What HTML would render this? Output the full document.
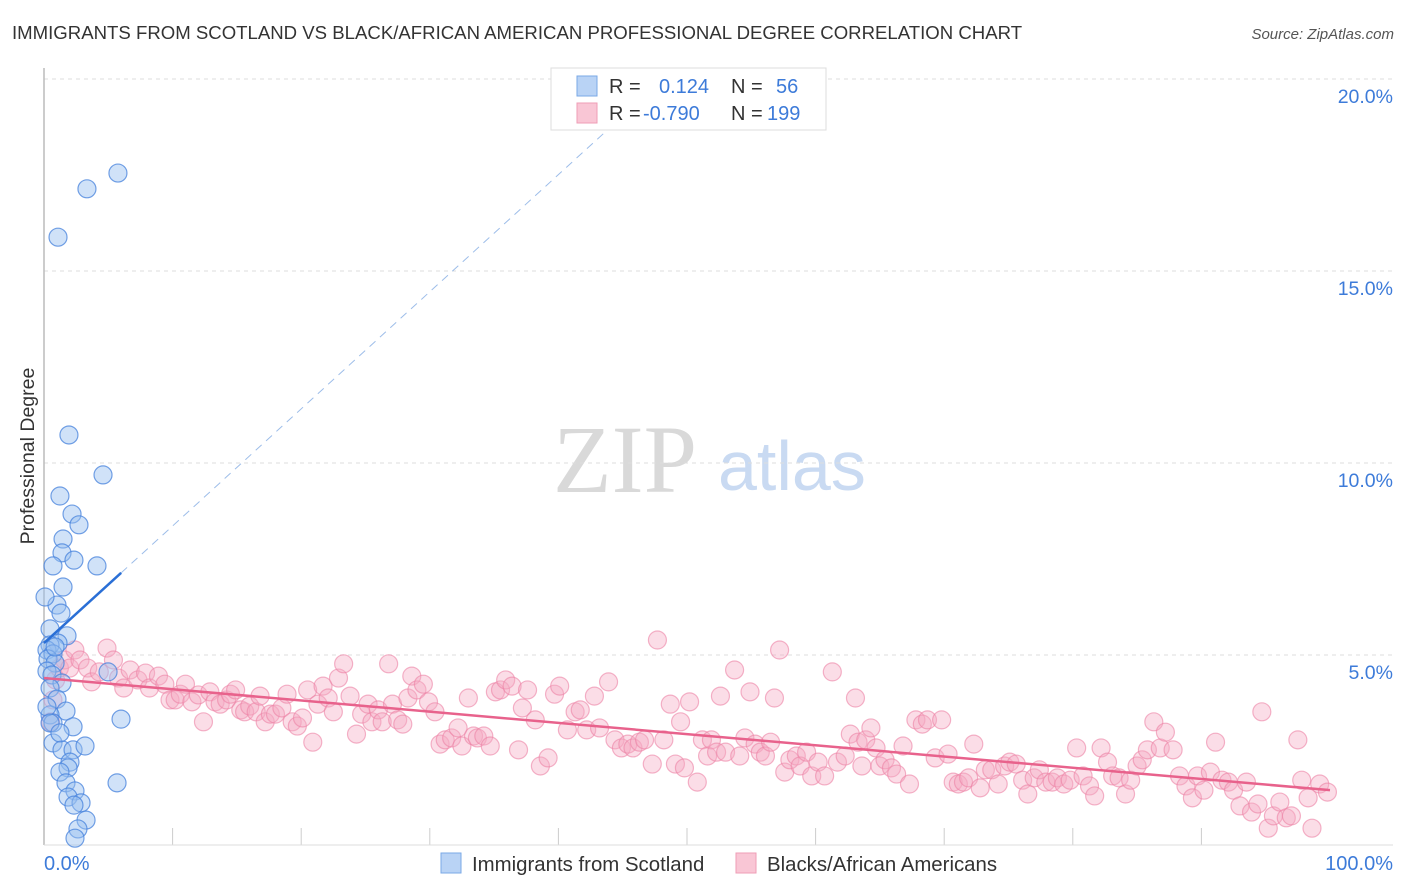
<!DOCTYPE html>
<html><head><meta charset="utf-8"><style>
body{margin:0;background:#fff;font-family:"Liberation Sans",sans-serif}
svg{display:block}
</style></head><body>
<svg id="chart" width="1406" height="892" xmlns="http://www.w3.org/2000/svg">
<text x="12" y="39" font-size="18.6" fill="#333">IMMIGRANTS FROM SCOTLAND VS BLACK/AFRICAN AMERICAN PROFESSIONAL DEGREE CORRELATION CHART</text>
<text x="1394" y="39" font-size="15" fill="#555" font-style="italic" text-anchor="end">Source: ZipAtlas.com</text>
<g>
<text x="553" y="492" font-family="Liberation Serif,serif" font-size="96" fill="#d9d9d9">ZIP</text>
<text x="718" y="490" font-size="70" fill="#c9daf2">atlas</text>
</g>
<g id="grid"></g>
<line x1="44" y1="68" x2="44" y2="845" stroke="#bbb" stroke-width="1.5"/>
<line x1="44" y1="845" x2="1393" y2="845" stroke="#ddd"/>
<text x="-456" y="34" transform="rotate(-90)" font-size="19.5" fill="#333" text-anchor="middle">Professional Degree</text>
<text x="44" y="870" font-size="20" fill="#3d7bd9">0.0%</text>
<text x="1393" y="870" font-size="20" fill="#3d7bd9" text-anchor="end">100.0%</text>
<g id="pink"></g><g id="blue"></g><g id="lines"></g>
<g>
<rect x="551" y="68" width="275" height="62" fill="#fff" stroke="#ddd"/>
<rect x="577" y="76" width="20" height="20" fill="#b9d3f5" stroke="#7aa8e6"/>
<rect x="577" y="103" width="20" height="20" fill="#f9c6d5" stroke="#ef9db6"/>
<text x="609" y="93" font-size="20" fill="#333">R = <tspan x="659" fill="#3d7bd9">0.124</tspan><tspan x="731" fill="#333">N = </tspan><tspan x="776" fill="#3d7bd9">56</tspan></text>
<text x="609" y="120" font-size="20" fill="#333">R = <tspan x="643" fill="#3d7bd9">-0.790</tspan><tspan x="731" fill="#333">N = </tspan><tspan x="767" fill="#3d7bd9">199</tspan></text>
</g>
<g>
<rect x="441" y="853" width="20" height="20" fill="#b9d3f5" stroke="#7aa8e6"/>
<text x="472" y="871" font-size="20.4" fill="#333">Immigrants from Scotland</text>
<rect x="736" y="853" width="20" height="20" fill="#f9c6d5" stroke="#ef9db6"/>
<text x="767" y="871" font-size="20.4" fill="#333">Blacks/African Americans</text>
</g>
</svg>
<script>
const yTicks=[5,10,15,20];
const xTickCount=10;
const blueX=[5.75,3.34,1.09,1.94,4.59,1.24,2.18,2.72,1.48,1.40,2.33,0.70,4.12,1.48,1.01,1.32,0.47,1.79,1.09,0.47,0.23,0.70,0.31,0.86,0.23,0.62,4.98,1.40,0.47,1.01,1.71,0.47,0.70,2.26,5.99,0.70,1.40,2.26,3.19,2.02,1.87,1.24,1.71,5.68,2.41,1.87,2.88,2.33,3.27,2.64,2.41,0.23,0.86,0.08,0.47,1.24];
const blueY=[17.55,17.14,15.88,10.73,9.69,9.14,8.67,8.39,8.02,7.66,7.47,7.32,7.32,6.77,6.30,6.09,5.68,5.50,5.31,5.26,5.13,5.03,4.90,4.79,4.58,4.48,4.56,4.27,4.14,3.85,3.54,3.44,3.23,3.13,3.33,2.71,2.53,2.53,2.63,2.21,2.06,1.95,1.67,1.67,1.46,1.30,1.15,1.09,0.70,0.47,0.23,3.65,5.21,6.51,3.23,2.97];
const pinkX=[0.5,0.7,0.9,1.2,1.6,2.0,2.4,2.8,3.4,3.7,4.3,4.9,5.4,5.8,6.2,6.7,7.3,7.9,8.2,8.9,9.4,9.8,10.2,10.6,11.0,11.5,12.0,12.4,12.9,13.3,13.7,14.2,14.5,14.9,15.3,15.6,16.0,16.5,16.8,17.2,17.6,18.0,18.5,18.9,19.3,19.7,20.1,20.5,20.9,21.3,21.7,22.1,22.5,22.9,23.3,23.8,24.3,24.7,25.2,25.5,26.0,26.3,26.8,27.1,27.5,27.9,28.3,28.6,29.0,29.5,29.9,30.4,30.8,31.2,31.7,32.2,32.5,33.0,33.4,33.7,34.2,34.7,35.1,35.5,35.9,36.4,36.9,37.2,37.6,38.2,38.6,39.2,39.7,40.1,40.7,41.3,41.7,42.2,42.8,43.2,43.9,44.4,44.9,45.4,45.8,46.3,46.7,47.3,47.7,48.2,48.7,49.1,49.5,49.8,50.2,50.8,51.2,51.6,51.9,52.3,52.6,53.0,53.7,54.1,54.5,54.9,55.3,55.7,56.1,56.5,56.8,57.2,57.6,58.0,58.5,58.8,59.3,59.7,60.2,60.7,61.3,61.7,62.3,62.7,63.1,63.3,63.6,63.9,64.3,64.7,65.0,65.4,65.9,66.3,66.8,67.3,67.8,68.3,68.7,69.3,69.8,70.3,70.7,71.1,71.5,71.9,72.3,72.8,73.2,73.7,74.2,74.7,75.1,75.6,76.1,76.5,77.0,77.4,77.9,78.4,78.8,79.3,79.8,80.3,80.8,81.3,81.7,82.2,82.7,83.1,83.6,84.1,84.5,85.0,85.4,85.8,86.3,86.8,87.2,87.8,88.3,88.8,89.3,89.7,90.2,90.7,91.1,91.6,92.1,92.5,93.0,93.5,93.9,94.4,94.7,95.2,95.6,96.1,96.6,97.0,97.5,97.8,98.3,98.6,99.2,99.8];
const pinkY=[3.26,3.83,4.35,4.66,4.87,4.66,5.13,4.87,4.66,4.30,4.56,5.18,4.87,4.40,4.14,4.61,4.35,4.53,4.14,4.45,4.24,3.83,3.83,3.98,4.24,3.78,3.96,3.26,4.04,3.78,3.72,3.83,3.98,4.09,3.57,3.52,3.67,3.52,3.93,3.26,3.46,3.46,3.62,3.98,3.26,3.15,3.36,4.09,2.73,3.72,4.19,3.88,3.52,4.40,4.77,3.93,2.94,3.46,3.72,3.26,3.57,3.26,4.77,3.72,3.31,3.20,3.88,4.45,4.09,4.24,3.78,3.52,2.68,2.79,2.84,3.10,2.63,3.88,2.89,2.84,2.89,2.63,4.04,4.09,4.35,4.19,2.53,3.62,4.09,3.31,2.11,2.32,3.98,4.19,3.05,3.52,3.57,3.05,3.93,3.10,4.30,2.79,2.58,2.68,2.58,2.73,2.79,2.16,5.39,2.79,3.72,2.16,3.26,2.06,3.78,1.69,2.79,2.37,2.79,2.47,3.93,2.47,4.61,2.37,2.84,4.04,2.68,2.47,2.37,2.73,3.88,5.13,1.95,2.27,2.37,2.11,2.47,1.85,2.21,1.85,4.56,2.21,2.37,2.94,3.88,2.73,2.11,2.79,3.10,2.58,2.11,2.27,2.06,1.90,2.63,1.64,3.31,3.20,3.31,2.32,3.31,2.42,1.69,1.64,1.69,1.80,2.68,1.54,2.01,2.01,1.64,2.11,2.21,2.16,1.74,1.38,1.80,2.01,1.69,1.69,1.80,1.64,1.74,2.58,1.85,1.59,1.33,2.58,2.21,1.85,1.80,1.38,1.74,2.11,2.27,2.53,3.26,2.58,2.99,2.53,1.85,1.59,1.28,1.85,1.48,1.95,2.73,1.74,1.69,1.48,1.07,1.69,0.91,1.12,3.52,0.49,0.81,1.17,0.76,0.81,2.79,1.74,1.28,0.49,1.64,1.43];
const blueTrend=[5.31,0.305];
const pinkTrend=[4.40,1.48];
const NS='http://www.w3.org/2000/svg';
const X=v=>44+v*12.86, Y=v=>847-v*38.4;
function mk(tag,attrs,parent){const e=document.createElementNS(NS,tag);for(const k in attrs)e.setAttribute(k,attrs[k]);document.getElementById(parent).appendChild(e);return e;}
yTicks.forEach(t=>{
 const l=mk('line',{x1:44,x2:1393,y1:Y(t),y2:Y(t),stroke:'#ddd','stroke-dasharray':'4,4'},'grid');
 
 
 const tx=mk('text',{x:1393,y:Y(t)+24,'font-size':19.5,fill:'#3d7bd9','text-anchor':'end'},'grid');
 tx.textContent=t.toFixed(1)+'%';
 
 
});
for(let i=1;i<xTickCount;i++){
 const l=mk('line',{x1:X(i*10),x2:X(i*10),y1:828,y2:845,stroke:'#ccc'},'grid');
 
 
}
pinkX.forEach((x,i)=>{
 const c=mk('circle',{cx:X(x),cy:Y(pinkY[i]),r:9,fill:'rgba(246,170,194,0.4)',stroke:'rgba(236,130,165,0.6)','stroke-width':1.2},'pink');
 
 
});
blueX.forEach((x,i)=>{
 const c=mk('circle',{cx:X(x),cy:Y(blueY[i]),r:9,fill:'rgba(150,190,240,0.45)',stroke:'rgba(70,130,220,0.75)','stroke-width':1.2},'blue');
 
 
});
const bl=mk('line',{x1:X(0),y1:Y(blueTrend[0]),x2:X(6),y2:Y(blueTrend[0]+6*blueTrend[1]),stroke:'#2a6fd6','stroke-width':2.5},'lines');


const xe=(19.6-blueTrend[0])/blueTrend[1];
const bd=mk('line',{x1:X(6),y1:Y(blueTrend[0]+6*blueTrend[1]),x2:X(xe),y2:Y(19.6),stroke:'#9dbde9','stroke-width':1,'stroke-dasharray':'8,6'},'lines');


const pl=mk('line',{x1:X(0),y1:Y(pinkTrend[0]),x2:X(100),y2:Y(pinkTrend[1]),stroke:'#e8628c','stroke-width':2.5},'lines');


</script>
</body></html>
